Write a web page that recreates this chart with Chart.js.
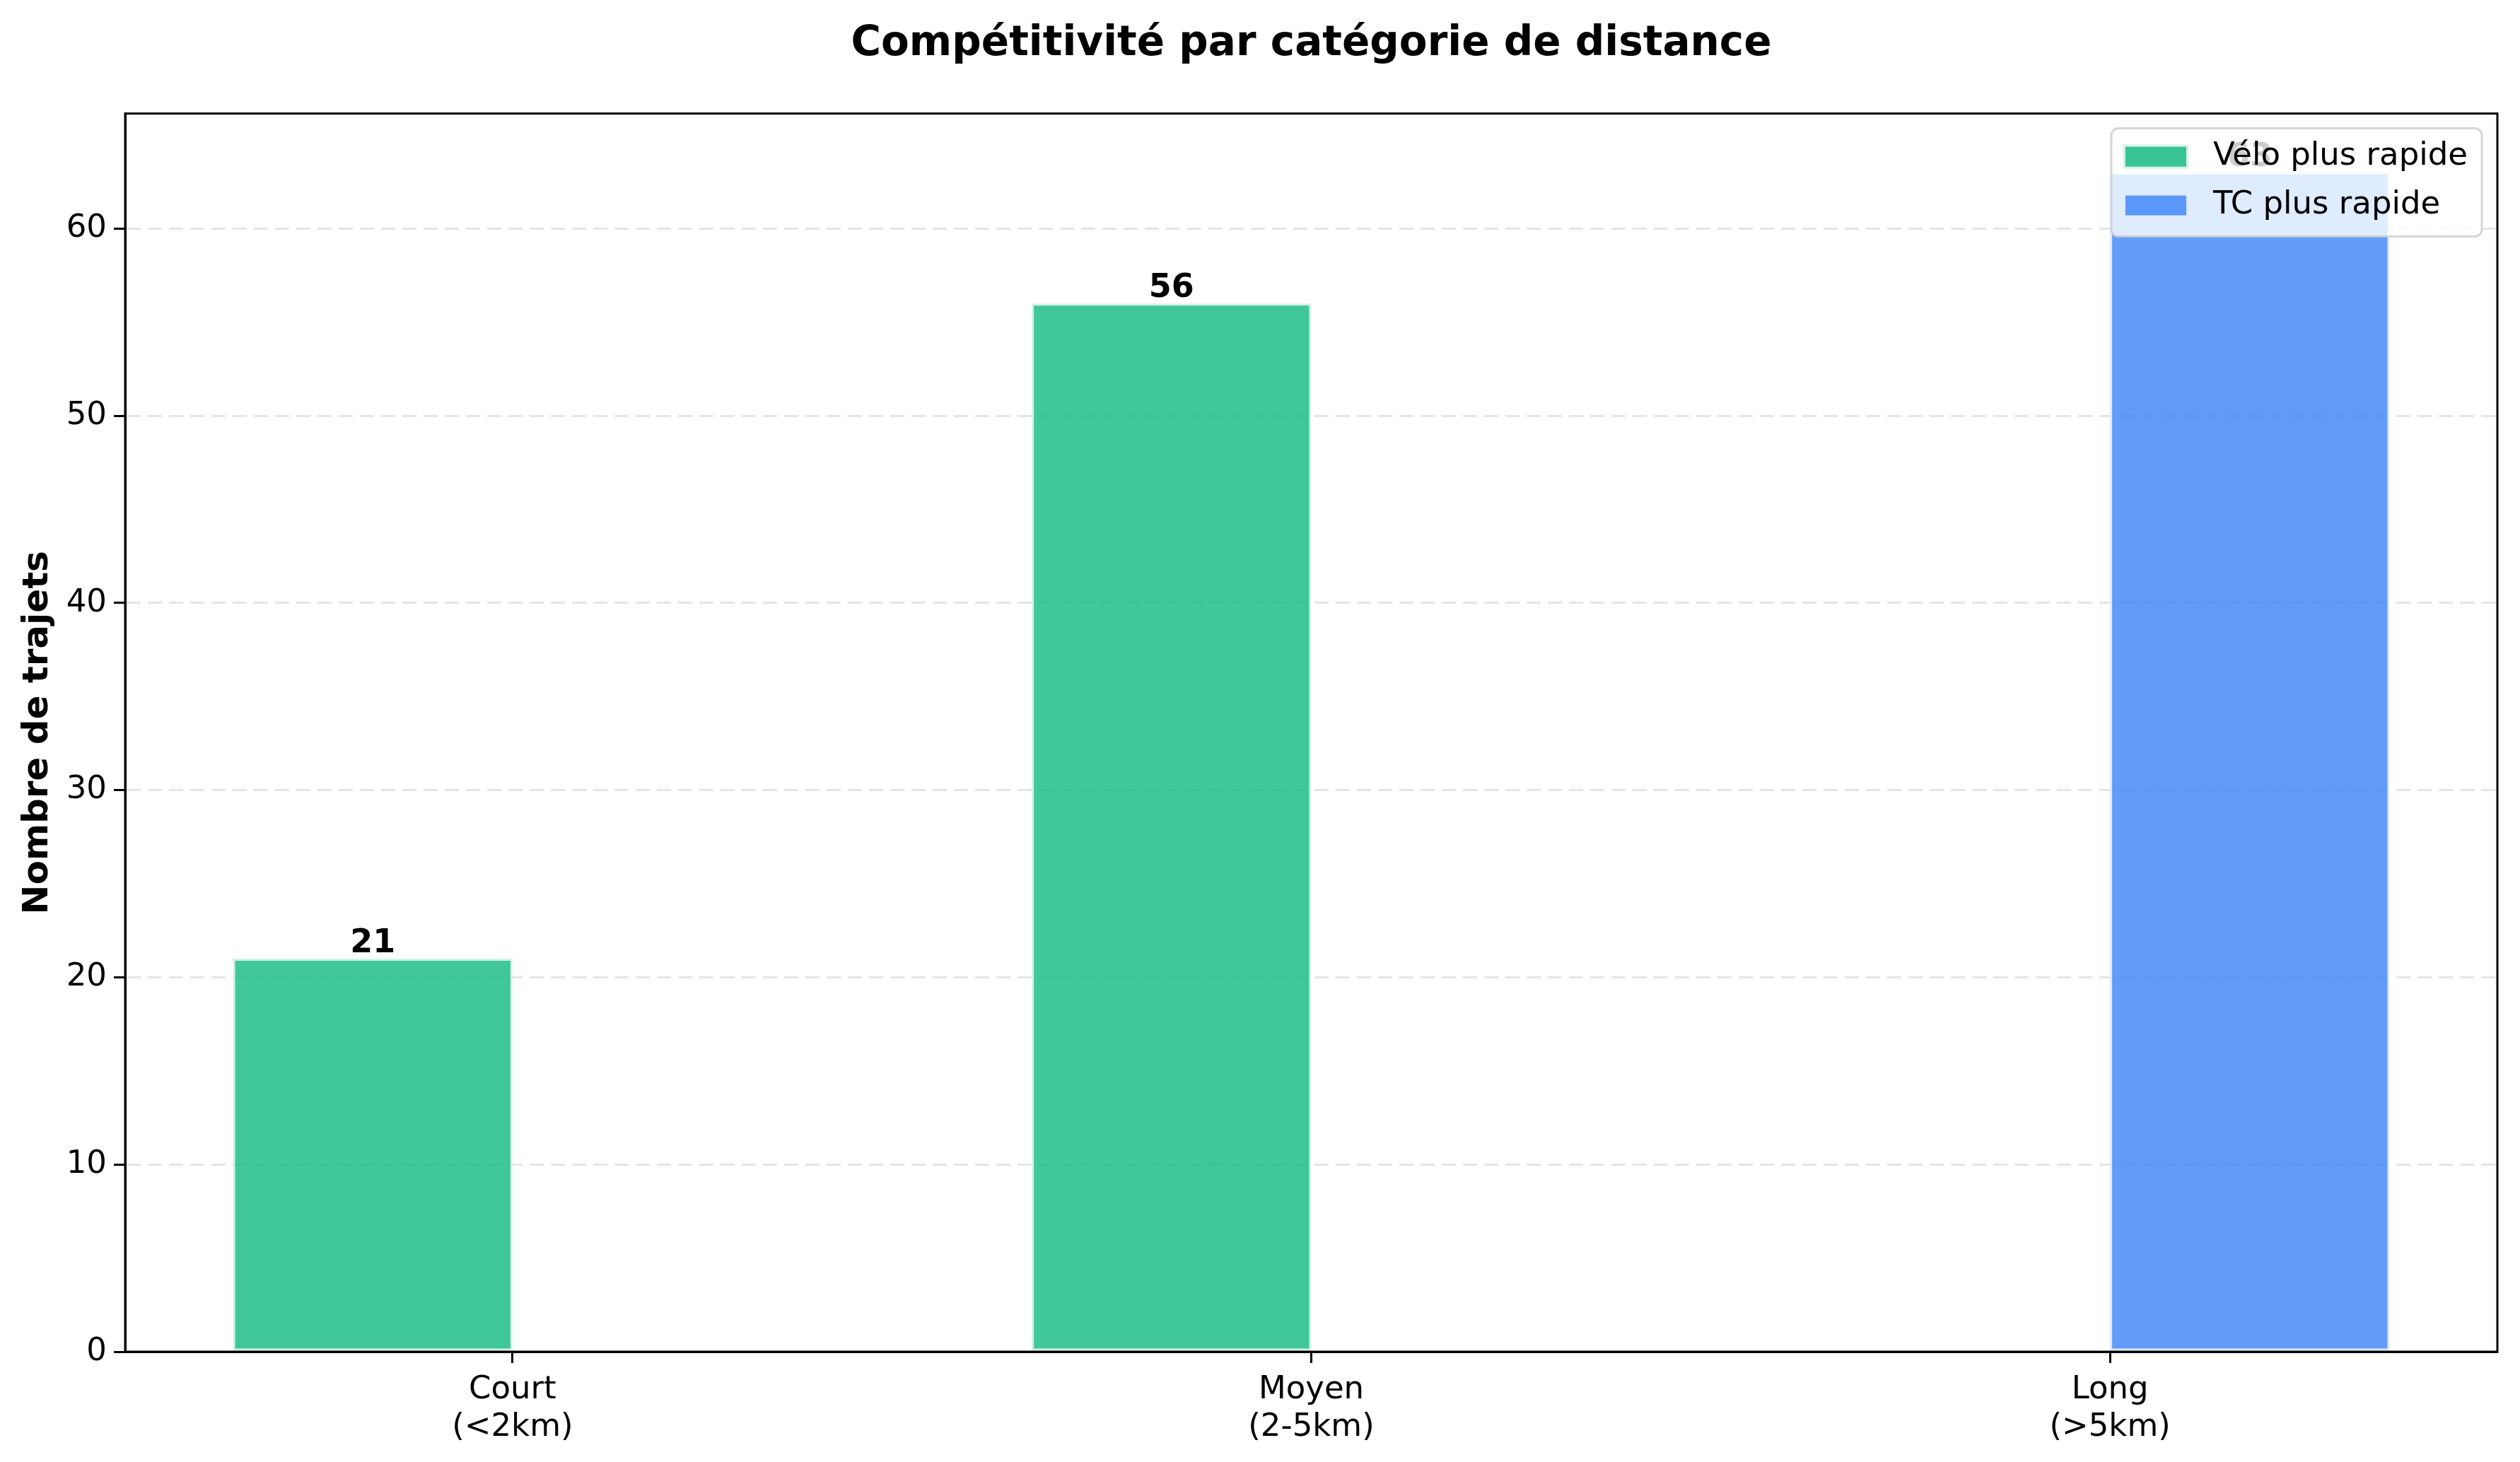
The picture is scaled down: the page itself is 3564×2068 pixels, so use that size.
<!DOCTYPE html>
<html><head><meta charset="utf-8">
<script src="https://cdn.jsdelivr.net/npm/chart.js@4.4.0/dist/chart.umd.min.js"></script>
<style>html,body{margin:0;padding:0;background:#fff;} canvas{display:block;}</style>
</head><body>
<canvas id="c" width="3564" height="2068"></canvas>
<script>
const categories = [["Court", "(<2km)"], ["Moyen", "(2-5km)"], ["Long", "(>5km)"]];
const seriesNames = ["Vélo plus rapide", "TC plus rapide"];
const veloValues = [21, 56, 0];
const tcValues = [0, 0, 63];
const yTicks = [0, 10, 20, 30, 40, 50, 60];
const titleText = "Compétitivité par catégorie de distance";
const yTitle = "Nombre de trajets";

const FONT = '"DejaVu Sans", sans-serif';
const yMax = Math.max(...veloValues, ...tcValues) * 1.05;

const toPoints = arr => arr.map((v, i) => ({ x: i, y: v }));

const framePlugin = {
  id: 'frameAndLabels',
  afterDatasetsDraw(chart) {
    const ctx = chart.ctx, ca = chart.chartArea;
    ctx.save();
    ctx.font = 'bold 46px ' + FONT;
    ctx.textAlign = 'center';
    ctx.textBaseline = 'alphabetic';
    ctx.fillStyle = '#000';
    chart.data.datasets.forEach((ds, di) => {
      const meta = chart.getDatasetMeta(di);
      meta.data.forEach((el, i) => {
        const v = ds.data[i].y;
        if (v > 0) ctx.fillText(String(v), el.x, el.y - 9);
      });
    });
    ctx.strokeStyle = '#000';
    ctx.lineWidth = 3;
    ctx.strokeRect(ca.left, ca.top, ca.right - ca.left, ca.bottom - ca.top);
    ctx.restore();
  },
  afterDraw(chart) {
    const ctx = chart.ctx, ca = chart.chartArea;
    const ds = chart.data.datasets;
    ctx.save();
    ctx.font = '45px ' + FONT;
    const textW = Math.max(...ds.map(d => ctx.measureText(d.label).width));
    const padX = 20, handleW = 86, handleH = 28, gap = 38, rowH = 69;
    const boxW = padX + handleW + gap + textW + padX;
    const boxH = 153;
    const x0 = ca.right - 22 - boxW, y0 = ca.top + 21;
    ctx.beginPath();
    ctx.roundRect(x0, y0, boxW, boxH, 10);
    ctx.fillStyle = 'rgba(255,255,255,0.8)';
    ctx.fill();
    ctx.lineWidth = 3;
    ctx.strokeStyle = 'rgba(204,204,204,0.8)';
    ctx.stroke();
    ds.forEach((d, r) => {
      const cy = y0 + 40 + r * rowH;
      ctx.fillStyle = d.borderColor;
      ctx.fillRect(x0 + padX - 3, cy - handleH / 2 - 3, handleW + 6, handleH + 6);
      ctx.fillStyle = d.backgroundColor;
      ctx.fillRect(x0 + padX, cy - handleH / 2, handleW, handleH);
      ctx.fillStyle = '#000';
      ctx.textAlign = 'left';
      ctx.textBaseline = 'middle';
      ctx.fillText(d.label, x0 + padX + handleW + gap, cy);
    });
    ctx.restore();
  }
};

new Chart(document.getElementById('c'), {
  type: 'bar',
  data: {
    datasets: [
      { label: seriesNames[0], data: toPoints(veloValues),
        backgroundColor: 'rgba(16,185,129,0.8)', borderColor: '#d4f1e6',
        borderWidth: 3, borderSkipped: false, categoryPercentage: 0.7, barPercentage: 1.0 },
      { label: seriesNames[1], data: toPoints(tcValues),
        backgroundColor: 'rgba(59,130,246,0.8)', borderColor: '#dde9fd',
        borderWidth: 3, borderSkipped: false, categoryPercentage: 0.7, barPercentage: 1.0 }
    ]
  },
  options: {
    responsive: false,
    devicePixelRatio: 1,
    animation: false,
    layout: { padding: { top: 0, right: 32, bottom: 0, left: 0 } },
    plugins: {
      legend: { display: false },
      tooltip: { enabled: false },
      title: {
        display: true, text: titleText, fullSize: false, color: '#000',
        font: { family: FONT, size: 58, weight: 'bold' },
        padding: { top: 28, bottom: 63 }
      }
    },
    scales: {
      x: {
        type: 'linear', min: -0.485, max: 2.485, offset: false,
        afterBuildTicks: s => { s.ticks = categories.map((_, i) => ({ value: i })); },
        afterFit: s => { s.height = 2068 - 1912; },
        ticks: {
          callback: v => categories[v], color: '#000', padding: 12, maxRotation: 0, autoSkip: false,
          font: { family: FONT, size: 45, lineHeight: 1.17 }
        },
        grid: { drawOnChartArea: false, tickColor: '#000', tickWidth: 3, tickLength: 16, offset: false },
        border: { display: true, color: '#000', width: 3 }
      },
      y: {
        min: 0, max: yMax,
        afterBuildTicks: s => { s.ticks = yTicks.map(v => ({ value: v })); },
        afterFit: s => { s.width = 177; },
        ticks: { color: '#000', padding: 10, font: { family: FONT, size: 45 } },
        grid: { color: '#e5e5e5', lineWidth: 3, tickColor: '#000', tickWidth: 3,
                tickLength: 16, tickBorderDash: [] },
        border: { display: true, color: '#000', width: 3, dash: [20, 10] },
        title: { display: true, text: yTitle, color: '#000', padding: { top: 24, bottom: 0 },
                 font: { family: FONT, size: 50, weight: 'bold' } }
      }
    }
  },
  plugins: [framePlugin]
});
</script>
</body></html>
